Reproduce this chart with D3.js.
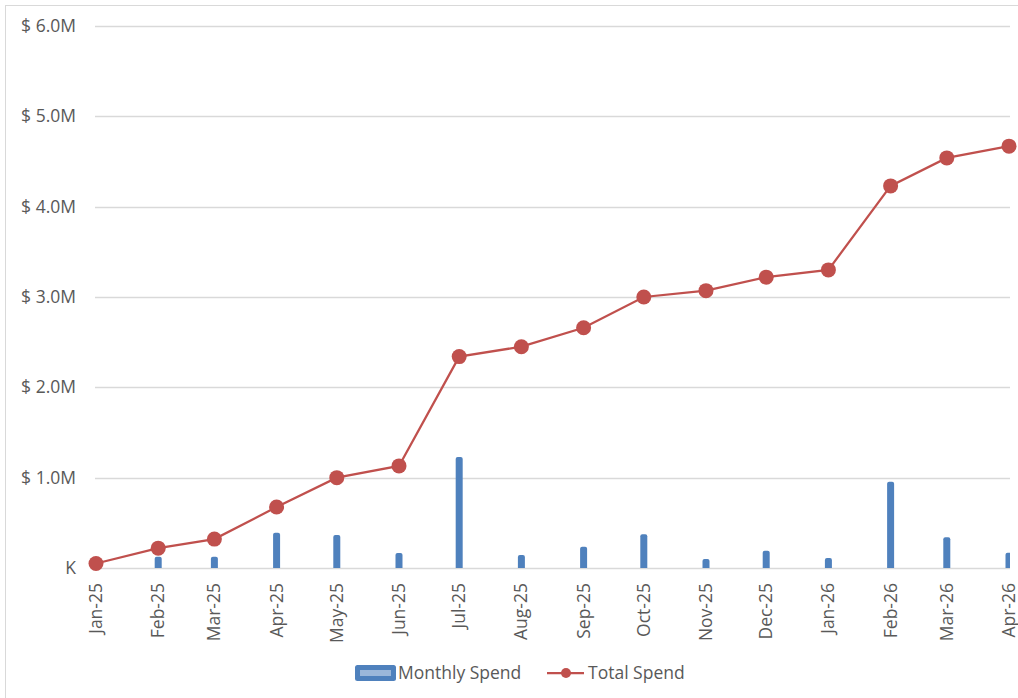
<!DOCTYPE html>
<html><head><meta charset="utf-8">
<script src="https://cdn.jsdelivr.net/npm/d3@7"></script>
<style>body{margin:0;background:#fff}text{font-family:"Open Sans","Noto Sans",sans-serif;fill:#595959}</style>
</head><body><svg id="c" width="1018" height="698"></svg>
<script>
const months = ["2025-01","2025-02","2025-03","2025-04","2025-05","2025-06","2025-07","2025-08","2025-09","2025-10","2025-11","2025-12","2026-01","2026-02","2026-03","2026-04"];
const monthLabels = ["Jan-25","Feb-25","Mar-25","Apr-25","May-25","Jun-25","Jul-25","Aug-25","Sep-25","Oct-25","Nov-25","Dec-25","Jan-26","Feb-26","Mar-26","Apr-26"];
const monthlySpend = [0.05,0.125,0.125,0.39,0.365,0.165,1.23,0.145,0.235,0.375,0.10,0.19,0.11,0.955,0.34,0.17];
const totalSpend = [0.05,0.22,0.32,0.675,1.0,1.13,2.34,2.45,2.66,3.0,3.07,3.22,3.30,4.23,4.54,4.67];
const yTicks = [0,1,2,3,4,5,6];
const yTickLabels = ["K","$ 1.0M","$ 2.0M","$ 3.0M","$ 4.0M","$ 5.0M","$ 6.0M"];
const legendLabels = ["Monthly Spend","Total Spend"];

const blue="#4f81bd", red="#c0504d", grid="#d9d9d9";
const svg=d3.select("#c");
const parse=d3.timeParse("%Y-%m");
const dates=months.map(parse);
const x=d3.scaleTime().domain([dates[0],dates[dates.length-1]]).range([96,1009]);
const y=d3.scaleLinear().domain([0,6]).range([568,26]);
const L=95,R=1010;

svg.append("rect").attr("x",5.5).attr("y",5.5).attr("width",1030).attr("height",720).attr("fill","none").attr("stroke",grid);

svg.append("defs").append("clipPath").attr("id","pc").append("rect").attr("x",L).attr("y",0).attr("width",R-L).attr("height",569);

// gridlines
svg.append("g").selectAll("line").data(yTicks).join("line")
  .attr("x1",L).attr("x2",R).attr("y1",d=>Math.round(y(d))+0.5).attr("y2",d=>Math.round(y(d))+0.5)
  .attr("stroke",grid).attr("stroke-width",1.3);
svg.append("g").selectAll("text").data(yTicks).join("text")
  .attr("x",76).attr("y",d=>y(d)+6).attr("text-anchor","end").attr("font-size",17.5)
  .text((d,i)=>yTickLabels[i]);

// bars
const bw=7;
svg.append("g").attr("clip-path","url(#pc)").selectAll("path").data(monthlySpend).join("path")
  .attr("fill",blue)
  .attr("d",(d,i)=>{const cx=x(dates[i]),x0=cx-bw/2,x1=cx+bw/2,yt=y(d),yb=y(0),r=2;
    return `M${x0},${yb}V${yt+r}Q${x0},${yt} ${x0+r},${yt}H${x1-r}Q${x1},${yt} ${x1},${yt+r}V${yb}Z`;});

// line
svg.append("path").datum(totalSpend).attr("fill","none").attr("stroke",red).attr("stroke-width",2.25)
  .attr("d",d3.line().x((d,i)=>x(dates[i])).y(d=>y(d)));
svg.append("g").selectAll("circle").data(totalSpend).join("circle")
  .attr("cx",(d,i)=>x(dates[i])).attr("cy",d=>y(d)).attr("r",7.5).attr("fill",red);

// x labels
svg.append("g").selectAll("text").data(monthLabels).join("text")
  .attr("transform",(d,i)=>`translate(${x(dates[i])+6},583) rotate(-90)`)
  .attr("text-anchor","end").attr("font-size",17.5).text(d=>d);

// legend
const lg=svg.append("g");
lg.append("rect").attr("x",355).attr("y",665).attr("width",41).attr("height",16).attr("rx",2.5).attr("fill",blue);
lg.append("rect").attr("x",360).attr("y",670).attr("width",31).attr("height",6).attr("fill","#9bb7da");
lg.append("text").attr("x",398).attr("y",679).attr("font-size",17.5).text(legendLabels[0]);
lg.append("line").attr("x1",547).attr("x2",584).attr("y1",673).attr("y2",673).attr("stroke",red).attr("stroke-width",2.25);
lg.append("circle").attr("cx",566).attr("cy",673).attr("r",5).attr("fill",red);
lg.append("text").attr("x",588).attr("y",679).attr("font-size",17.5).text(legendLabels[1]);
</script></body></html>
